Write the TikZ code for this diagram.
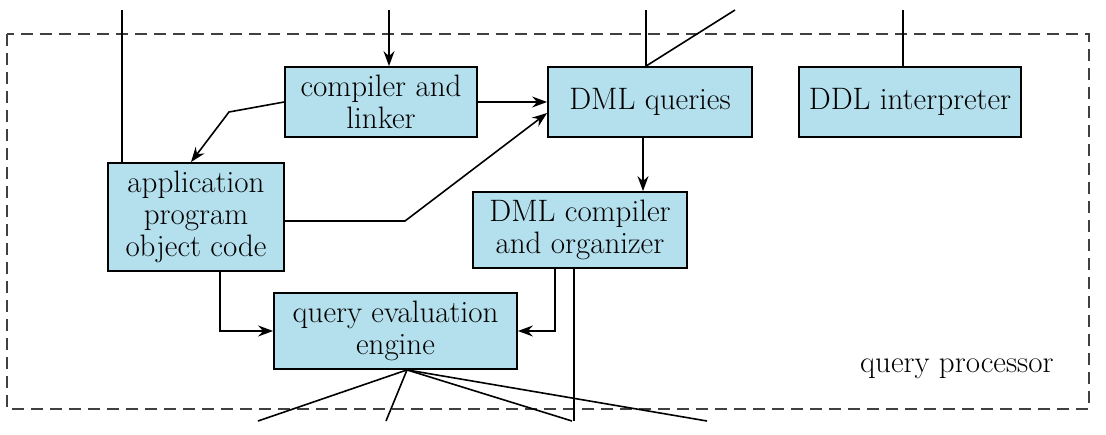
\documentclass[tikz,border=0pt]{standalone}
\usetikzlibrary{arrows.meta}
\definecolor{boxblue}{RGB}{180,223,236}
\begin{document}
\begin{tikzpicture}[x=1pt, y=-1pt,
		box/.style={draw, line width=1.8pt, fill=boxblue, align=center, inner sep=0pt, font=\fontsize{31}{32}\selectfont},
		ln/.style={line width=1.6pt},
		arr/.style={ln, -{Stealth[length=15pt, width=11pt, inset=5pt]}}]
		\useasboundingbox (0,0) rectangle (1106,434);
		\draw[line width=2pt, dash pattern=on 12pt off 7pt, black!75] (7,34) rectangle (1089,409);
		\node[box, minimum width=192pt, minimum height=70pt] (linker) at (381,102) {compiler and\\linker};
		\node[box, minimum width=204pt, minimum height=70pt] (dmlq) at (650,102) {DML queries};
		\node[box, minimum width=222pt, minimum height=70pt] (ddl) at (910,102) {DDL interpreter};
		\node[box, minimum width=176pt, minimum height=108pt] (app) at (196,217) {application\\program\\object code};
		\node[box, minimum width=214pt, minimum height=76pt] (dmlc) at (580,230) {DML compiler\\and organizer};
		\node[box, minimum width=243pt, minimum height=76pt] (qee) at (395.5,331) {query evaluation\\engine};
		\node[anchor=east, font=\fontsize{31}{32}\selectfont] (qp) at (1057,369) {query processor};
		\coordinate (t1) at (122,10);
		\coordinate (t2) at (389,10);
		\coordinate (t3) at (646,10);
		\coordinate (t4) at (735,10);
		\coordinate (t5) at (903,10);
		\coordinate (b1) at (229,112);
		\coordinate (b2) at (405,221);
		\coordinate (d1) at (574,421);
		\draw[ln] (t1) -- (t1 |- app.north);
		\draw[arr] (t2) -- (t2 |- linker.north);
		\draw[ln] (t3) -- (t3 |- dmlq.north);
		\draw[ln] (t4) -- (t3 |- dmlq.north);
		\draw[ln] (t5) -- (t5 |- ddl.north);
		\draw[arr] (linker.east) -- (dmlq.west);
		\draw[arr] (linker.west) -- (b1) -- (app.north -| 191,0);
		\draw[arr] (app.east |- b2) -- (b2) -- (dmlq.west |- 0,113);
		\draw[arr] (dmlq.south -| 643,0) -- (dmlc.north -| 643,0);
		\draw[arr] (dmlc.south -| 555,0) |- (qee.east);
		\draw[arr] (app.south -| 220,0) |- (qee.west);
		\draw[ln] (dmlc.south -| d1) -- (d1);
		\coordinate (qb) at (qee.south -| 407,0);
		\foreach \x in {258,386,572,707}
			\draw[ln] (qb) -- (\x,421);
\end{tikzpicture}
\end{document}
